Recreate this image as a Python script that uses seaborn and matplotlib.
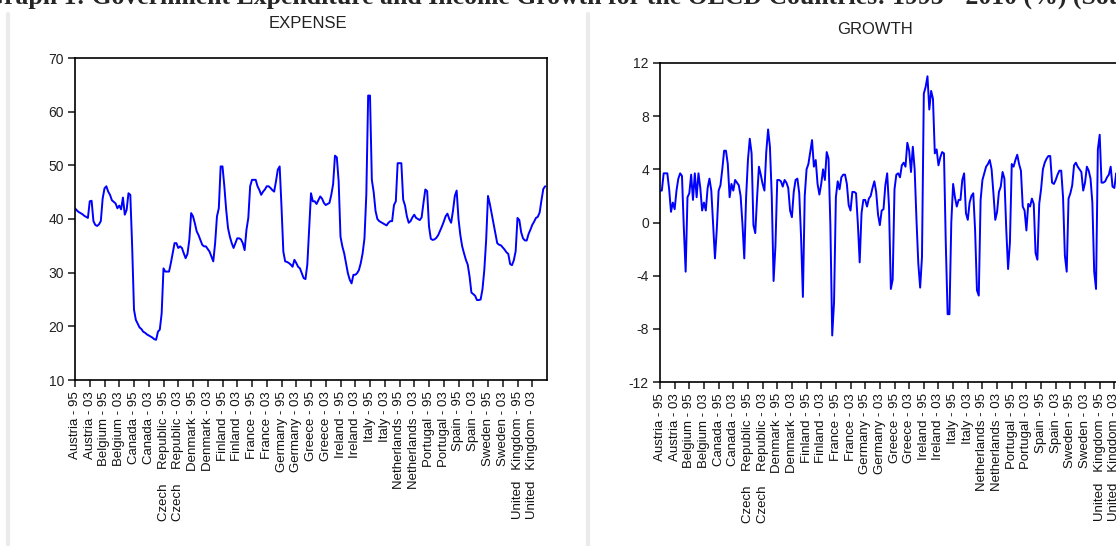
import numpy as np
import pandas as pd
import matplotlib
matplotlib.use("Agg")
import matplotlib.pyplot as plt
import seaborn as sns
from matplotlib.lines import Line2D

# Panel data: 16 countries, 1995-2010 (one value per year)
countries = ["Austria", "Belgium", "Canada", "Czech    Republic", "Denmark", "Finland",
             "France", "Germany", "Greece", "Ireland", "Italy", "Netherlands",
             "Portugal", "Spain", "Sweden", "United   Kingdom"]
label_years = ["95", "03"]

# EXPENSE (% of GDP)
exp_austria = [42.0, 41.6, 41.3, 41.1, 40.9, 40.6, 40.4, 40.2, 43.3, 43.4, 39.6, 38.9, 38.7, 39.0, 39.6, 43.8]
exp_belgium = [45.7, 46.1, 45.1, 44.5, 43.5, 43.2, 42.9, 42.0, 42.5, 41.8, 44.0, 40.8, 41.7, 44.8, 44.5, 34.9]
exp_canada = [23.1, 21.2, 20.5, 19.8, 19.5, 19.0, 18.8, 18.5, 18.3, 18.1, 17.9, 17.6, 17.5, 19.0, 19.4, 22.4]
exp_czech = [30.8, 30.2, 30.2, 30.2, 31.8, 33.6, 35.5, 35.5, 34.6, 34.9, 34.6, 33.6, 32.7, 33.5, 36.1, 41.1]
exp_denmark = [40.5, 39.2, 37.7, 37.0, 36.1, 35.2, 34.9, 34.9, 34.4, 33.9, 33.0, 32.1, 35.5, 40.5, 42.0, 49.8]
exp_finland = [49.8, 46.1, 41.7, 38.3, 36.7, 35.5, 34.6, 35.5, 36.4, 36.4, 36.2, 35.5, 34.2, 38.0, 40.2, 46.1]
exp_france = [47.3, 47.3, 47.3, 46.1, 45.4, 44.5, 45.1, 45.5, 46.1, 46.1, 45.8, 45.4, 45.1, 47.0, 49.2, 49.8]
exp_germany = [42.3, 33.9, 32.1, 32.0, 31.8, 31.5, 31.1, 32.4, 31.8, 31.1, 30.8, 29.9, 29.0, 28.8, 31.5, 38.0]
exp_greece = [44.8, 43.3, 43.3, 42.8, 43.5, 44.2, 43.8, 43.0, 42.6, 42.8, 43.0, 44.5, 46.5, 51.8, 51.5, 47.0]
exp_ireland = [36.7, 34.9, 33.6, 31.8, 29.9, 28.7, 28.0, 29.6, 29.6, 29.9, 30.5, 31.8, 33.6, 36.4, 44.5, 63.0]
exp_italy = [63.0, 47.3, 45.0, 41.5, 40.0, 39.6, 39.4, 39.2, 39.0, 38.8, 39.3, 39.6, 39.6, 42.6, 43.3, 50.4]
exp_netherlands = [50.4, 50.4, 43.6, 42.5, 40.5, 39.3, 39.6, 40.3, 40.8, 40.2, 40.0, 39.8, 40.3, 43.0, 45.5, 45.2]
exp_portugal = [38.6, 36.3, 36.1, 36.2, 36.5, 37.0, 37.8, 38.6, 39.5, 40.5, 41.0, 40.0, 39.3, 41.5, 44.3, 45.3]
exp_spain = [40.0, 37.0, 34.9, 33.6, 32.4, 31.5, 29.3, 26.3, 26.0, 25.7, 24.9, 24.9, 25.0, 26.9, 30.5, 36.1]
exp_sweden = [44.3, 42.8, 41.0, 39.3, 37.4, 35.5, 35.2, 35.1, 34.7, 34.3, 33.8, 33.5, 31.6, 31.4, 32.3, 34.0]
exp_uk = [40.2, 39.8, 37.5, 36.4, 36.0, 36.0, 37.2, 38.0, 38.9, 39.5, 40.2, 40.4, 41.2, 43.5, 45.6, 46.1]

# GROWTH (%)
gro_austria = [2.4, 2.4, 3.7, 3.7, 3.7, 2.5, 0.8, 1.5, 1.0, 2.4, 3.3, 3.7, 3.5, -0.4, -3.7, 1.9]
gro_belgium = [2.2, 3.6, 1.7, 3.7, 1.9, 3.7, 2.6, 0.9, 1.5, 0.9, 2.6, 3.3, 2.4, -0.2, -2.7, -0.5]
gro_canada = [2.4, 2.8, 4.0, 5.4, 5.4, 4.4, 1.9, 2.9, 2.4, 3.2, 3.0, 2.8, 2.0, -0.1, -2.7, 1.9]
gro_czech = [4.7, 6.3, 5.2, -0.2, -0.8, 1.9, 4.2, 3.6, 2.9, 2.4, 5.3, 7.0, 5.7, 2.0, -4.4, -1.8]
gro_denmark = [3.2, 3.2, 3.1, 2.7, 3.2, 3.0, 2.6, 0.9, 0.4, 2.3, 3.2, 3.3, 2.2, -1.1, -5.6, 2.0]
gro_finland = [4.0, 4.4, 5.3, 6.2, 4.2, 4.7, 2.9, 2.1, 2.9, 4.0, 3.2, 5.3, 4.8, -0.2, -8.5, -6.0]
gro_france = [1.9, 3.1, 2.5, 3.4, 3.6, 3.6, 2.9, 1.3, 0.9, 2.3, 2.3, 2.2, -0.1, -3.0, 0.7, 1.7]
gro_germany = [1.7, 1.2, 1.8, 2.0, 2.6, 3.1, 2.3, 0.6, -0.2, 0.9, 1.0, 2.8, 3.7, 1.2, -5.0, -4.3]
gro_greece = [2.5, 3.6, 3.7, 3.4, 4.3, 4.5, 4.2, 6.0, 5.4, 3.8, 5.7, 4.0, 0.2, -3.1, -4.9, -2.6]
gro_ireland = [9.7, 10.2, 11.0, 8.5, 9.9, 9.3, 5.2, 5.5, 4.3, 4.9, 5.3, 5.2, -1.6, -6.9, -6.9, 0.0]
gro_italy = [2.9, 1.9, 1.2, 1.7, 1.7, 3.2, 3.7, 0.7, 0.2, 1.5, 2.0, 2.2, -0.6, -5.1, -5.5, 1.7]
gro_netherlands = [3.2, 3.7, 4.2, 4.4, 4.7, 4.0, 2.2, 0.2, 0.8, 2.3, 2.7, 3.8, 3.3, -0.5, -3.5, -1.5]
gro_portugal = [4.4, 4.2, 4.7, 5.1, 4.4, 3.9, 1.2, 0.9, -0.6, 1.4, 1.2, 1.8, 1.4, -2.3, -2.8, 1.4]
gro_spain = [2.5, 4.0, 4.5, 4.8, 5.0, 5.0, 3.0, 2.9, 3.2, 3.6, 3.9, 3.9, 1.9, -2.5, -3.7, 1.8]
gro_sweden = [2.2, 2.8, 4.3, 4.5, 4.2, 4.0, 3.8, 2.4, 3.0, 4.2, 3.9, 3.3, 1.5, -3.7, -5.0, 5.5]
gro_uk = [6.6, 3.0, 3.0, 3.1, 3.4, 3.6, 4.2, 2.7, 2.6, 3.7, 3.5, 3.2, 3.4, 3.0, 3.5, 3.3]

expense = [exp_austria, exp_belgium, exp_canada, exp_czech, exp_denmark, exp_finland,
           exp_france, exp_germany, exp_greece, exp_ireland, exp_italy, exp_netherlands,
           exp_portugal, exp_spain, exp_sweden, exp_uk]
growth = [gro_austria, gro_belgium, gro_canada, gro_czech, gro_denmark, gro_finland,
          gro_france, gro_germany, gro_greece, gro_ireland, gro_italy, gro_netherlands,
          gro_portugal, gro_spain, gro_sweden, gro_uk]

n_per = len(exp_austria)
df = pd.DataFrame({
    "obs": np.arange(n_per * len(countries)),
    "EXPENSE": np.concatenate(expense),
    "GROWTH": np.concatenate(growth),
})

tick_pos = np.arange(0, len(df), n_per // 2)
tick_labels = [f"{c} - {y}" for c in countries for y in label_years]

sns.set_style("white")
plt.rcParams["font.family"] = ["Liberation Sans", "DejaVu Sans"]

W, H = 1116, 546
fig = plt.figure(figsize=(W / 100, H / 100), dpi=100)

# heading of the source document, cut off at the top edge
fig.text(-16 / W, 1 - 4 / H,
         "Graph 1: Government Expenditure and Income Growth for the OECD Countries: 1995 - 2010 (%) (Source",
         family=["Liberation Serif", "DejaVu Serif"], fontweight="bold", fontsize=18.5,
         ha="left", va="baseline")

# faint borders of the two pasted panels
for x0 in (8, 588):
    fig.add_artist(Line2D([x0 / W, x0 / W], [0, 1 - 14 / H], transform=fig.transFigure,
                          color="#ebebeb", lw=3))


def panel(rect, col, ylim, yticks, title, title_xy):
    ax = fig.add_axes([rect[0] / W, 1 - rect[3] / H, (rect[2] - rect[0]) / W, (rect[3] - rect[1]) / H])
    sns.lineplot(data=df, x="obs", y=col, ax=ax, color="#0000ff", linewidth=1.4)
    ax.set_xlim(0, 256)
    ax.set_ylim(*ylim)
    ax.set_yticks(yticks)
    ax.set_yticklabels([str(v) for v in yticks], fontsize=10, color="#222222")
    ax.set_xticks(tick_pos)
    ax.set_xticklabels(tick_labels, rotation=90, fontsize=9.5, color="#111111")
    ax.set_xlabel("")
    ax.set_ylabel("")
    ax.tick_params(axis="both", direction="out", length=5, width=1.2, pad=3,
                   left=True, bottom=True, top=False, right=False)
    for s in ax.spines.values():
        s.set_color("black")
        s.set_linewidth(1.2)
    fig.text(title_xy[0] / W, 1 - title_xy[1] / H, title, ha="center", va="center",
             fontsize=12, color="#222222")
    return ax


panel((75, 58, 547, 380), "EXPENSE", (10, 70), list(range(10, 71, 10)), "EXPENSE", (308, 24))
panel((660, 63, 1129, 382), "GROWTH", (-12, 12), list(range(-12, 13, 4)), "GROWTH", (875, 29))

fig.savefig("out.png", dpi=100)
